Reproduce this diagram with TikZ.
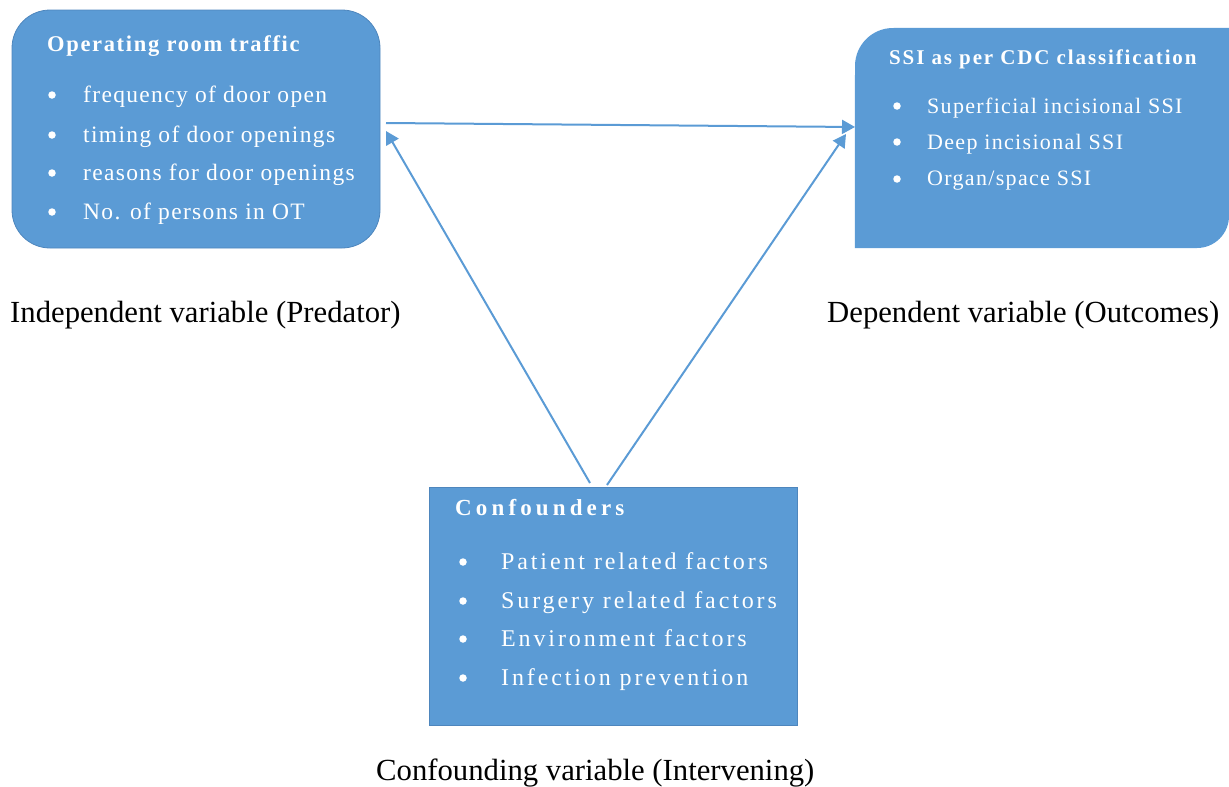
\documentclass[tikz,border=0pt]{standalone}
\usepackage{fontspec}
\setmainfont{Liberation Serif}
\newfontfamily\fLt[LetterSpace=7.4]{Liberation Serif}
\newfontfamily\fLi[LetterSpace=5.7]{Liberation Serif}
\newfontfamily\fRt[LetterSpace=8.9]{Liberation Serif}
\newfontfamily\fRi[LetterSpace=6]{Liberation Serif}
\newfontfamily\fCt[LetterSpace=18]{Liberation Serif}
\newfontfamily\fCi[LetterSpace=12]{Liberation Serif}
\usetikzlibrary{arrows.meta}
\definecolor{boxblue}{HTML}{5B9BD5}
\definecolor{boxedge}{HTML}{4E86BD}
\definecolor{linkblue}{HTML}{5B9BD5}
\begin{document}
\begin{tikzpicture}[x=1pt,y=-1pt,
  panel/.style={fill=boxblue, draw=boxedge, line width=0.8pt, inner sep=0pt},
  boxtxt/.style={anchor=base west, inner sep=0pt, text=white},
  ttlA/.style={boxtxt, font=\fLt\bfseries\fontsize{22.5}{26}\selectfont},
  txtA/.style={boxtxt, font=\fLi\fontsize{23.5}{27}\selectfont},
  ttlB/.style={boxtxt, font=\fRt\bfseries\fontsize{21}{25}\selectfont},
  txtB/.style={boxtxt, font=\fRi\fontsize{22}{26}\selectfont},
  ttlC/.style={boxtxt, font=\fCt\bfseries\fontsize{23}{27}\selectfont},
  txtC/.style={boxtxt, font=\fCi\fontsize{24}{28}\selectfont},
  dot/.style={circle, fill=white, inner sep=0pt, minimum size=7.5pt},
  caption/.style={anchor=base west, inner sep=0pt, text=black, font=\fontsize{30.7}{36}\selectfont},
  conn/.style={draw=linkblue, line width=2pt, -{Triangle[length=13pt,width=14pt]}}
]
\useasboundingbox (0,0) rectangle (1229,787);

% left box
\node[panel, rounded corners=38pt, minimum width=368pt, minimum height=238pt] (L) at (196,129) {};
\node[ttlA] (Lt) at (47,51.5) {Operating room traffic};
\node[dot] (Lb1) at (52,95) {}; \node[txtA] (L1) at (83,102) {frequency of door open};
\node[dot] (Lb2) at (52,135) {}; \node[txtA] (L2) at (83,142) {timing of door openings};
\node[dot] (Lb3) at (52,173) {}; \node[txtA] (L3) at (83,180.5) {reasons for door openings};
\node[dot] (Lb4) at (52,212) {}; \node[txtA] (L4) at (83,219.5) {No. of persons in OT};

% right box
\node[inner sep=0pt, minimum width=374pt, minimum height=220pt] (R) at (1042,138) {};
\fill[boxblue] (R.south west) -- (855,66) arc[start angle=180, end angle=270, radius=38] -- (R.north east) -- (1229,216) arc[start angle=0, end angle=90, radius=32] -- cycle;
\node[ttlB] (Rt) at (889,64) {SSI as per CDC classification};
\node[dot] (Rb1) at (897,106) {}; \node[txtB] (R1) at (927,113) {Superficial incisional SSI};
\node[dot] (Rb2) at (897,142) {}; \node[txtB] (R2) at (927,149) {Deep incisional SSI};
\node[dot] (Rb3) at (897,179) {}; \node[txtB] (R3) at (927,185.5) {Organ/space SSI};

% bottom box
\node[panel, minimum width=368pt, minimum height=238pt] (C) at (613,606) {};
\node[ttlC] (Ct) at (455,515.5) {Confounders};
\node[dot] (Cb1) at (463,562) {}; \node[txtC] (C1) at (501,569.5) {Patient related factors};
\node[dot] (Cb2) at (463,601) {}; \node[txtC] (C2) at (501,608) {Surgery related factors};
\node[dot] (Cb3) at (463,639) {}; \node[txtC] (C3) at (501,646.5) {Environment factors};
\node[dot] (Cb4) at (463,678) {}; \node[txtC] (C4) at (501,685.5) {Infection prevention};

% captions
\node[caption] (capL) at (10,322) {Independent variable (Predator)};
\node[caption] (capR) at (827,322) {Dependent variable (Outcomes)};
\node[caption] (capC) at (376,780) {Confounding variable (Intervening)};

% connectors
\coordinate (a1s) at (386,123); \coordinate (a1e) at (855,127);
\coordinate (a2s) at (590,483); \coordinate (a2e) at (386,131);
\coordinate (a3s) at (607,485); \coordinate (a3e) at (846,134);
\draw[conn] (a1s) -- (a1e);
\draw[conn] (a2s) -- (a2e);
\draw[conn] (a3s) -- (a3e);
\end{tikzpicture}
\end{document}
